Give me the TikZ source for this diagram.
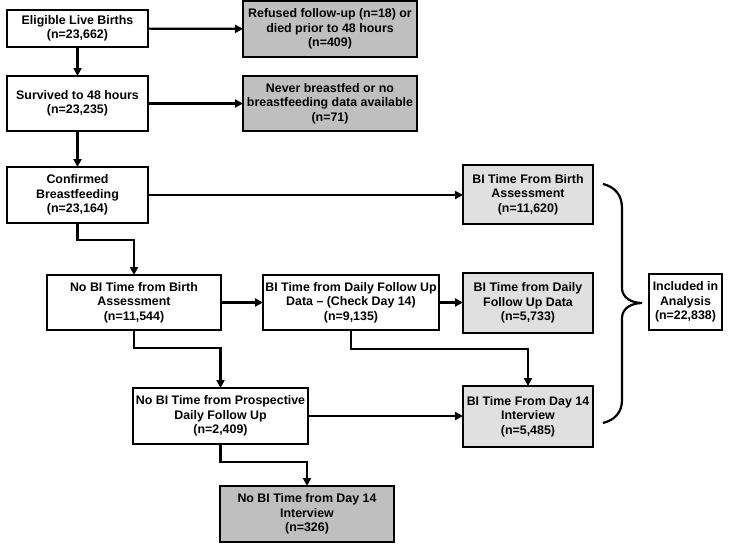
\documentclass[tikz,border=0pt]{standalone}
\usepackage{fontspec}
\setmainfont{Liberation Sans}
\usetikzlibrary{arrows.meta}
\definecolor{darkbox}{gray}{0.75}
\definecolor{lightbox}{gray}{0.88}
\begin{document}
\begin{tikzpicture}[x=1pt,y=-1pt,
  box/.style={draw=black,line width=2.2pt,inner sep=0pt,outer sep=0pt,align=center,
    font=\fontsize{12.4}{14.5}\selectfont\bfseries,fill=white},
  darkfill/.style={fill=darkbox},
  lightfill/.style={fill=lightbox},
  arr/.style={line width=2.2pt,-{Triangle[length=8pt,width=8pt]}},
  bracestyle/.style={line width=2.2pt}]
\useasboundingbox (0,0) rectangle (731,550);
\node[box,minimum width=141pt,minimum height=37pt] (b1) at (77.5,28.5) {Eligible Live Births\\(n=23,662)};
\node[box,darkfill,minimum width=174pt,minimum height=56pt] (b2) at (330,29) {Refused follow-up (n=18) or\\died prior to 48 hours\\(n=409)};
\node[box,minimum width=141pt,minimum height=55pt] (b3) at (77.5,103.5) {Survived to 48 hours\\(n=23,235)};
\node[box,darkfill,minimum width=174pt,minimum height=55pt] (b4) at (330,103.5) {Never breastfed or no\\breastfeeding data available\\(n=71)};
\node[box,minimum width=141pt,minimum height=56pt] (b5) at (77.5,195) {Confirmed\\Breastfeeding\\(n=23,164)};
\node[box,lightfill,minimum width=130pt,minimum height=59pt] (b6) at (528,194.5) {BI Time From Birth\\Assessment\\(n=11,620)};
\node[box,minimum width=174pt,minimum height=55pt] (b7) at (134,302.5) {No BI Time from Birth\\Assessment\\(n=11,544)};
\node[box,minimum width=176pt,minimum height=55pt] (b8) at (351,302.5) {BI Time from Daily Follow Up\\Data -- (Check Day 14)\\(n=9,135)};
\node[box,lightfill,minimum width=130pt,minimum height=60pt] (b9) at (528,303) {BI Time from Daily\\Follow Up Data\\(n=5,733)};
\node[box,minimum width=73pt,minimum height=56pt] (b10) at (685.5,302) {Included in\\Analysis\\(n=22,838)};
\node[box,minimum width=175pt,minimum height=56pt] (b11) at (220.5,416) {No BI Time from Prospective\\Daily Follow Up\\(n=2,409)};
\node[box,lightfill,minimum width=130pt,minimum height=61pt] (b12) at (528,416.5) {BI Time From Day 14\\Interview\\(n=5,485)};
\node[box,darkfill,minimum width=174pt,minimum height=56pt] (b13) at (307,514) {No BI Time from Day 14\\Interview\\(n=326)};
\draw[arr] (b1) -- (b2);
\draw[arr] (b1) -- (b3);
\draw[arr] (b3) -- (b4);
\draw[arr] (b3) -- (b5);
\draw[arr] (b5.east) -- (b6.west |- b5.east);
\draw[arr] (b5.south) -- ++(0,17) -| (b7.north);
\draw[arr] (b7) -- (b8);
\draw[arr] (b7.south) -- ++(0,18) -| (b11.north);
\draw[arr] (b8.east) -- (b9.west |- b8.east);
\draw[arr] (b8.south) -- ++(0,19) -| (b12.north);
\draw[arr] (b11.east) -- (b12.west |- b11.east);
\draw[arr] (b11.south) -- ++(0,18) -| (b13.north);
\coordinate (brtop) at (603,184);
\coordinate (brtip) at (642,303);
\coordinate (brbot) at (603,423);
\draw[bracestyle] (brtop) .. controls (615,187) and (622,195) .. (622,208) -- (622,288)
  .. controls (622,298) and (632,303) .. (brtip)
  .. controls (632,303) and (622,308) .. (622,318) -- (622,400)
  .. controls (622,412) and (615,420) .. (brbot);
\end{tikzpicture}
\end{document}
